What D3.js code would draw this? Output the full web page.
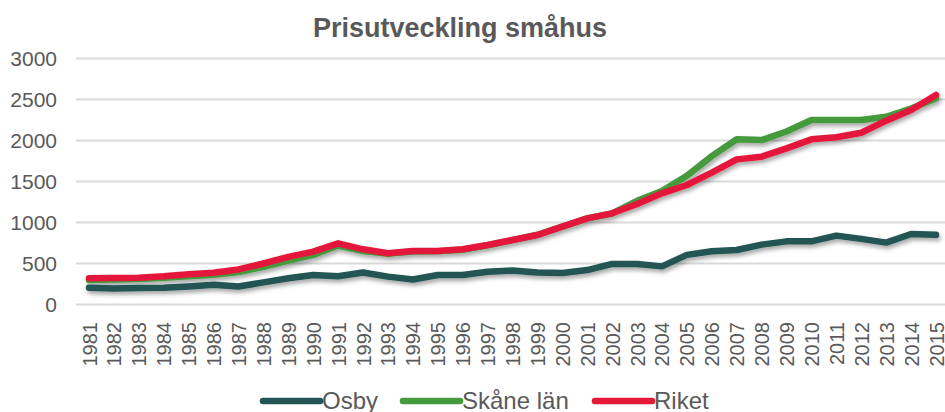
<!DOCTYPE html>
<html>
<head>
<meta charset="utf-8">
<script src="https://cdn.jsdelivr.net/npm/d3@7"></script>
<style>
html,body{margin:0;padding:0;background:#fff;}
svg{display:block;font-family:"Liberation Sans",Arial,sans-serif;}
</style>
</head>
<body>
<svg id="chart" width="945" height="412"></svg>
<script>
const years = ["1981","1982","1983","1984","1985","1986","1987","1988","1989","1990","1991","1992","1993","1994","1995","1996","1997","1998","1999","2000","2001","2002","2003","2004","2005","2006","2007","2008","2009","2010","2011","2012","2013","2014","2015"];
const osby  = [205,195,200,205,220,240,220,270,320,360,345,390,340,305,360,360,400,415,390,385,420,495,495,465,605,650,665,730,770,770,840,800,755,860,850];
const skane = [300,305,310,325,345,362,395,460,535,605,720,652,618,645,648,668,722,785,850,950,1050,1110,1265,1385,1570,1810,2015,2005,2110,2250,2250,2250,2290,2390,2515];
const riket = [320,323,327,345,370,388,428,500,580,644,746,673,624,652,652,673,726,787,848,949,1051,1112,1226,1356,1457,1608,1770,1803,1904,2014,2039,2095,2242,2372,2555];
const yTicks = [0,500,1000,1500,2000,2500,3000];
const seriesNames = ["Osby","Skåne län","Riket"];
const seriesColors = ["#215452","#449a3c","#e5193a"];
const title = "Prisutveckling småhus";

const series = [osby, skane, riket].map((v,i)=>({name:seriesNames[i], color:seriesColors[i], values:v}));

const svg = d3.select("#chart");
const x = d3.scalePoint().domain(years).range([89, 936]);
const y = d3.scaleLinear().domain([0,3000]).range([304.5, 58.5]);

const defs = svg.append("defs");
const f = defs.append("filter").attr("id","shadow").attr("x","-5%").attr("y","-20%").attr("width","110%").attr("height","150%");
f.append("feDropShadow").attr("dx",1.5).attr("dy",3).attr("stdDeviation",2).attr("flood-color","#000").attr("flood-opacity",0.35);

// title
svg.append("text").attr("x",460).attr("y",37).attr("text-anchor","middle")
  .attr("font-size",27).attr("font-weight","bold").attr("fill","#595959").text(title);

// gridlines
svg.append("g").selectAll("line").data(yTicks).join("line")
  .attr("x1",76).attr("x2",950).attr("y1",d=>y(d)).attr("y2",d=>y(d))
  .attr("stroke","#d9d9d9").attr("stroke-width",2);

// y axis
const yAxis = d3.axisLeft(y).tickValues(yTicks).tickFormat(d3.format("d")).tickSize(0).tickPadding(0);
const gy = svg.append("g").attr("transform","translate(57,0)").call(yAxis);
gy.select(".domain").remove();
gy.selectAll("text").attr("font-size",21).attr("fill","#595959")
  .attr("font-family","'Liberation Sans',Arial,sans-serif").attr("dy","0.35em");

// x axis
const xAxis = d3.axisBottom(x).tickSize(0).tickPadding(0);
const gx = svg.append("g").attr("transform","translate(0,322)").call(xAxis);
gx.select(".domain").remove();
gx.selectAll("text").attr("font-size",20).attr("fill","#595959")
  .attr("font-family","'Liberation Sans',Arial,sans-serif")
  .attr("transform","rotate(-90)").attr("text-anchor","end")
  .attr("x",0).attr("y",0).attr("dx",0).attr("dy","0.35em");

// lines
const line = d3.line().x((d,i)=>x(years[i])).y(d=>y(d));
svg.append("g").attr("filter","url(#shadow)").selectAll("path").data(series).join("path")
  .attr("d",d=>line(d.values)).attr("fill","none").attr("stroke",d=>d.color)
  .attr("stroke-width",6.5).attr("stroke-linecap","round").attr("stroke-linejoin","round");

// legend
const legendX = [263,403,595];
const lg = svg.append("g").selectAll("g").data(series).join("g")
  .attr("transform",(d,i)=>`translate(${legendX[i]},401)`);
lg.append("line").attr("x1",0).attr("x2",57).attr("y1",0).attr("y2",0)
  .attr("stroke",d=>d.color).attr("stroke-width",6.5).attr("stroke-linecap","round");
lg.append("text").attr("x",59).attr("y",0).attr("dy","0.35em").attr("font-size",24)
  .attr("fill","#595959").text(d=>d.name);
</script>
</body>
</html>
